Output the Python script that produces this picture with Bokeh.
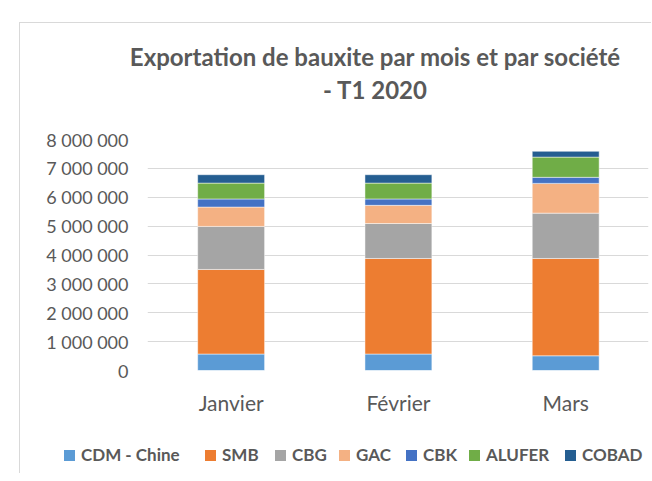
from bokeh.plotting import figure
from bokeh.layouts import column
from bokeh.models import (ColumnDataSource, Range1d, FixedTicker, Div)
from bokeh.embed import file_html
from bokeh.resources import INLINE

months = ["Janvier", "Février", "Mars"]
companies = ["CDM - Chine", "SMB", "CBG", "GAC", "CBK", "ALUFER", "COBAD"]
cdm = [570000, 570000, 510000]
smb = [2930000, 3310000, 3370000]
cbg = [1490000, 1210000, 1570000]
gac = [670000, 630000, 1030000]
cbk = [280000, 220000, 210000]
alufer = [550000, 550000, 700000]
cobad = [290000, 290000, 200000]
colors = ["#5B9BD5", "#ED7D31", "#A5A5A5", "#F4B183", "#4472C4", "#70AD47", "#255E91"]
y_ticks = [0, 1000000, 2000000, 3000000, 4000000, 5000000, 6000000, 7000000, 8000000]
y_labels = ["0", "1 000 000", "2 000 000", "3 000 000", "4 000 000", "5 000 000",
            "6 000 000", "7 000 000", "8 000 000"]
title_lines = ["Exportation de bauxite par mois et par société", "- T1 2020"]

# layout only: left edge (px) of each legend entry inside the legend strip
legend_x = [44, 185, 255, 319, 386, 449, 545]

keys = ["cdm", "smb", "cbg", "gac", "cbk", "alufer", "cobad"]
series = [cdm, smb, cbg, gac, cbk, alufer, cobad]
data = {"x": list(range(len(months)))}
for k, s in zip(keys, series):
    data[k] = s
src = ColumnDataSource(data)

GRAY = "#595959"
FONT = "Lato"
W = 631

title = Div(text=("<div style=\"width:%dpx;box-sizing:border-box;font-family:Lato;"
                  "font-weight:bold;font-size:24px;color:#595959;text-align:center;"
                  "line-height:33px;padding-left:79px;padding-top:17px;white-space:nowrap\">"
                  % W + title_lines[0] + "<br>" + title_lines[1] + "</div>"),
            width=W, height=100, margin=0)

p = figure(width=W, height=314, output_backend="svg", toolbar_location=None,
           x_range=Range1d(-0.5, 2.495), y_range=Range1d(0, 8000000),
           min_border_left=127, min_border_right=3, min_border_top=16, min_border_bottom=67)
p.outline_line_color = None

rs = p.vbar_stack(keys, x="x", width=0.4, source=src, color=colors,
                  line_color="white", line_width=0.8, line_alpha=0.6)

p.yaxis.ticker = FixedTicker(ticks=y_ticks)
p.yaxis.major_label_overrides = {t: l for t, l in zip(y_ticks, y_labels)}
p.yaxis.axis_line_color = None
p.yaxis.major_tick_line_color = None
p.yaxis.minor_tick_line_color = None
p.yaxis.major_label_standoff = 13
p.yaxis.major_label_text_font = FONT
p.yaxis.major_label_text_font_size = "18px"
p.yaxis.major_label_text_color = GRAY

p.xaxis.ticker = FixedTicker(ticks=list(range(len(months))))
p.xaxis.major_label_overrides = {i: m for i, m in enumerate(months)}
p.xaxis.axis_line_color = None
p.xaxis.major_tick_line_color = None
p.xaxis.minor_tick_line_color = None
p.xaxis.major_label_standoff = 13
p.xaxis.major_label_text_font = FONT
p.xaxis.major_label_text_font_size = "21px"
p.xaxis.major_label_text_color = GRAY

p.xgrid.grid_line_color = None
p.ygrid.grid_line_color = "#D9D9D9"
p.ygrid.grid_line_width = 1

# legend strip
items_html = ""
for name, col, lx in zip(companies, colors, legend_x):
    items_html += ("<span style=\"position:absolute;left:%dpx;top:8px;display:flex;"
                   "align-items:center;white-space:nowrap\">"
                   "<span style=\"display:inline-block;width:11px;height:11px;"
                   "background:%s;margin-right:6px\"></span>"
                   "<span style=\"font-family:Lato;font-weight:bold;font-size:17px;"
                   "color:#595959;line-height:20px\">%s</span></span>") % (lx, col, name)
legend_div = Div(text=("<div style=\"position:relative;width:%dpx;height:36px\">" % W
                       + items_html + "</div>"),
                 width=W, height=36, margin=0)

layout = column(title, p, legend_div, spacing=0,
                styles={"margin-left": "19px", "margin-top": "22px",
                        "border-left": "1px solid #D9D9D9", "border-top": "1px solid #D9D9D9"})

open("out.html", "w").write(file_html(layout, INLINE))
